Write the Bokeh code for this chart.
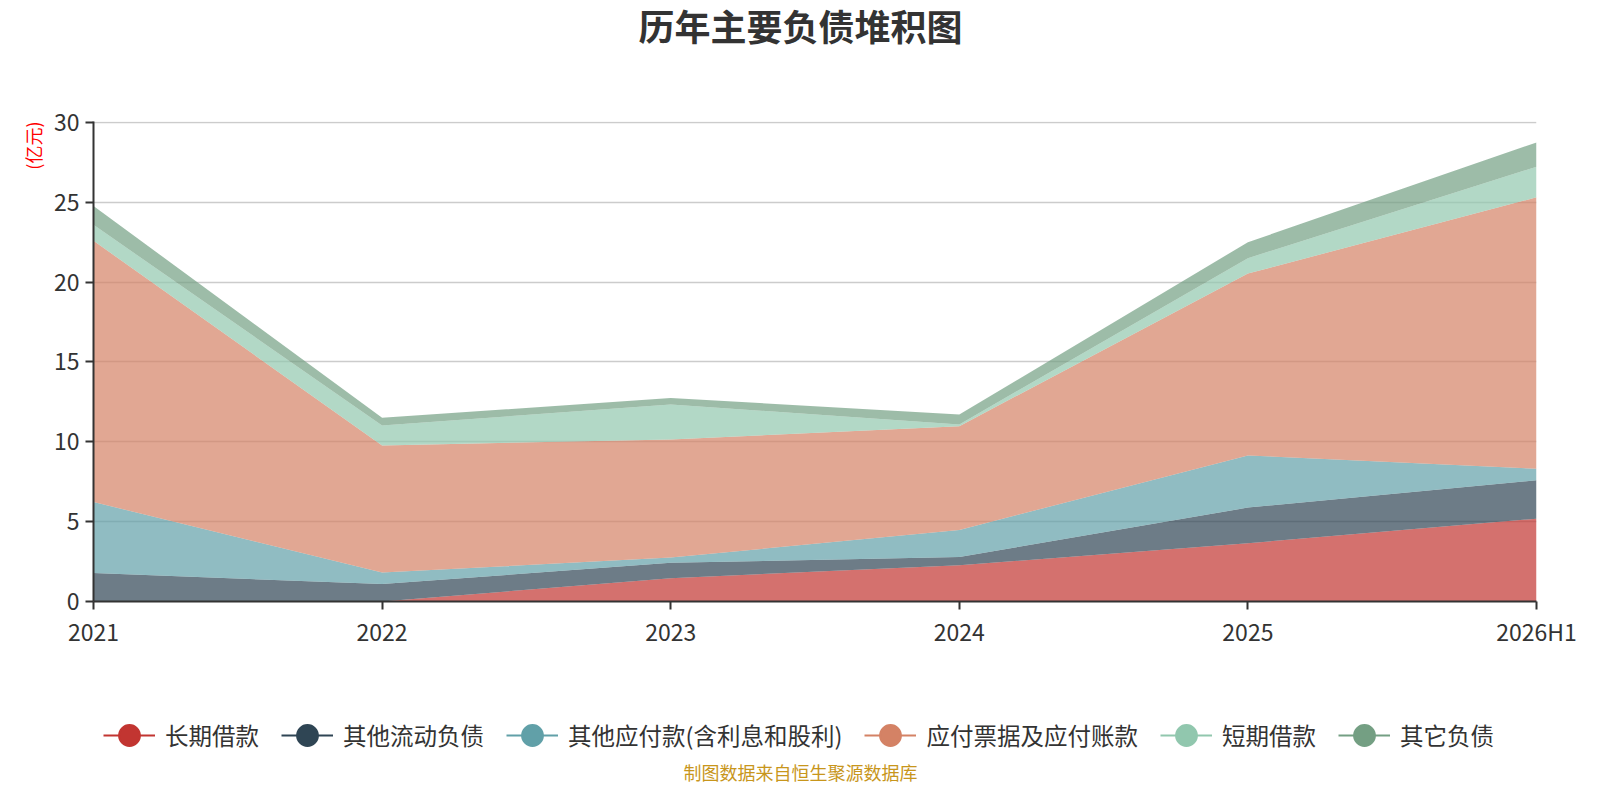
import math
from bokeh.plotting import figure
from bokeh.layouts import column
from bokeh.models import (Range1d, FixedTicker, Label, Legend, LegendItem,
                          ColumnDataSource, Title)
from bokeh.embed import file_html
from bokeh.resources import INLINE

# ---------------- data ----------------
categories = ["2021", "2022", "2023", "2024", "2025", "2026H1"]
series_names = ["长期借款", "其他流动负债", "其他应付款(含利息和股利)",
                "应付票据及应付账款", "短期借款", "其它负债"]
long_term_loans = [0.00, 0.00, 1.46, 2.27, 3.65, 5.19]
other_current = [1.79, 1.09, 0.96, 0.52, 2.23, 2.40]
other_payables = [4.44, 0.72, 0.33, 1.69, 3.27, 0.72]
notes_accounts = [16.36, 7.96, 7.40, 6.50, 11.39, 17.00]
short_term_loans = [1.00, 1.25, 2.19, 0.11, 0.96, 1.92]
other_liab = [1.18, 0.48, 0.41, 0.62, 1.00, 1.52]
y_ticks = [0, 5, 10, 15, 20, 25, 30]
title_text = "历年主要负债堆积图"
unit_text = "(亿元)"
source_text = "制图数据来自恒生聚源数据库"

colors = ["#c23531", "#2f4554", "#61a0a8", "#d48265", "#91c7ae", "#749f83"]
FONT = "Noto Sans CJK SC"
W = 1584
FRAME_LEFT = 93      # column layout aligns the frames of all figures
CENTER_X = 800 - FRAME_LEFT


def blank_fig(h):
    f = figure(width=W, height=h, output_backend="svg", toolbar_location=None,
               x_range=Range1d(0, 1), y_range=Range1d(0, 1),
               min_border=0, title=None)
    f.axis.visible = False
    f.grid.visible = False
    f.outline_line_color = None
    f.background_fill_color = "white"
    f.border_fill_color = "white"
    return f


# ---------------- title figure ----------------
TOP_H = 60
top = blank_fig(TOP_H)
top.add_layout(Label(x=CENTER_X, y=TOP_H - 24, x_units="screen",
                     y_units="screen", text=title_text, text_align="center",
                     text_baseline="middle", text_font=FONT,
                     text_font_size="36px", text_font_style="bold",
                     text_color="#333333"))

# ---------------- main chart ----------------
keys = ["s0", "s1", "s2", "s3", "s4", "s5"]
series = [long_term_loans, other_current, other_payables, notes_accounts,
          short_term_loans, other_liab]
data = {"x": list(range(len(categories)))}
for k, s in zip(keys, series):
    data[k] = s
src = ColumnDataSource(data)

MAIN_H = 600
p = figure(width=W, height=MAIN_H, output_backend="svg", toolbar_location=None,
           x_range=Range1d(0, len(categories) - 1), y_range=Range1d(0, 30.06),
           min_border_left=FRAME_LEFT, min_border_right=48, min_border_top=61,
           min_border_bottom=59, title=None)
p.outline_line_color = None
p.background_fill_color = "white"
p.border_fill_color = "white"

p.varea_stack(stackers=keys, x="x", color=colors, fill_alpha=0.7, source=src)

p.xaxis.ticker = FixedTicker(ticks=list(range(len(categories))))
p.xaxis.major_label_overrides = {i: c for i, c in enumerate(categories)}
p.yaxis.ticker = FixedTicker(ticks=y_ticks)
for ax in (p.xaxis, p.yaxis):
    ax.axis_line_color = "#333333"
    ax.axis_line_width = 2
    ax.major_tick_line_color = "#333333"
    ax.major_tick_line_width = 2
    ax.major_tick_out = 8
    ax.major_tick_in = 0
    ax.minor_tick_line_color = None
    ax.major_label_text_font = FONT
    ax.major_label_text_font_size = "23px"
    ax.major_label_text_color = "#333333"
p.xaxis.major_label_standoff = 4
p.yaxis.major_label_standoff = 6
p.xgrid.visible = False
p.ygrid.grid_line_color = "#cccccc"
p.ygrid.grid_line_width = 1.5

p.add_layout(Title(text=unit_text, align="right", text_font=FONT,
                   text_font_size="18px", text_font_style="normal",
                   text_color="#ff0000", standoff=10), "left")

# ---------------- legend + source figure ----------------
BOT_H = 784 - TOP_H - MAIN_H
bot = blank_fig(BOT_H)
items = []
for name, c in zip(series_names, colors):
    lr = bot.line(x=[-10, -9], y=[-10, -10], line_color=c, line_width=2)
    sr = bot.scatter(x=[-10], y=[-10], size=20, fill_color=c, line_color=c,
                     line_width=2)
    items.append(LegendItem(label=name, renderers=[lr, sr]))
legend = Legend(items=items, location=(103 - FRAME_LEFT, BOT_H - 101),
                orientation="horizontal", glyph_width=52, glyph_height=52,
                label_standoff=10, spacing=22, padding=0, margin=0,
                border_line_color=None, background_fill_alpha=0,
                label_text_font=FONT, label_text_font_size="23.5px",
                label_text_color="#333333", label_text_baseline="middle")
bot.add_layout(legend, "center")
bot.add_layout(Label(x=CENTER_X, y=0, x_units="screen", y_units="screen",
                     text=source_text, text_align="center",
                     text_baseline="bottom", text_font=FONT,
                     text_font_size="18px", text_color="#c8961c"))

layout = column(top, p, bot, spacing=0)
open("out.html", "w").write(file_html(layout, INLINE))
